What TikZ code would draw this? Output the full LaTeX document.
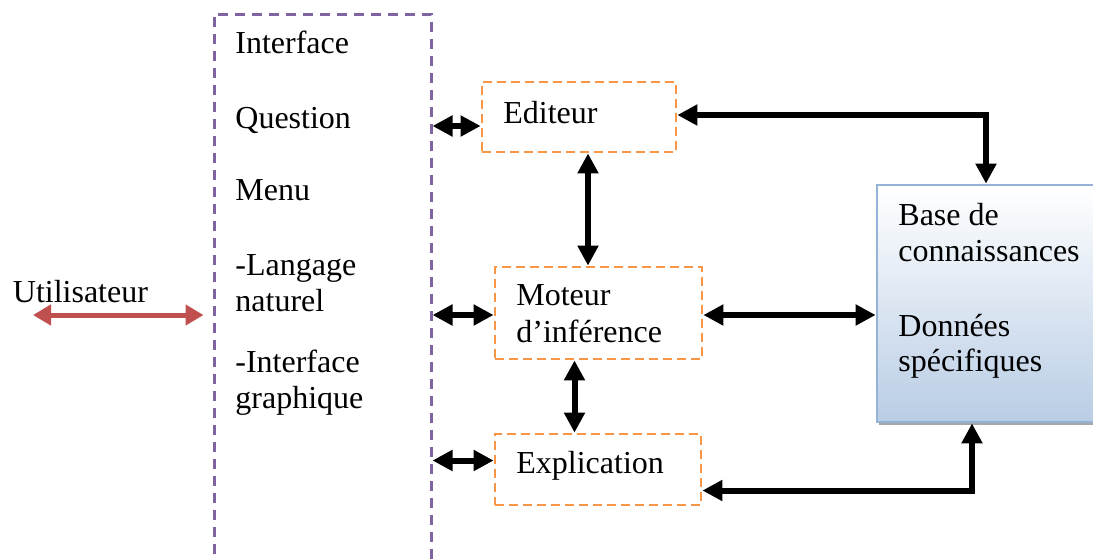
\documentclass[tikz,border=0pt]{standalone}
\usepackage{fontspec}
\setmainfont{Liberation Serif}
\usetikzlibrary{arrows.meta,calc}

\definecolor{ifacepurple}{HTML}{8064A2}
\definecolor{modorange}{HTML}{F79646}
\definecolor{userred}{HTML}{C0504D}
\definecolor{kbblue}{HTML}{B9CDE5}
\definecolor{kbline}{HTML}{95B3D7}

\tikzset{
  ifacebox/.style={draw=ifacepurple, line width=1.5pt, dash pattern=on 5pt off 3.5pt, inner sep=0pt},
  modbox/.style={draw=modorange, line width=1.4pt, dash pattern=on 4.5pt off 2.5pt, inner sep=0pt},
  kbbox/.style={draw=kbline, line width=1.4pt, top color=white, bottom color=kbblue, inner sep=0pt},
  txt/.style={anchor=base west, inner sep=0pt, font=\fontsize{16}{18}\selectfont},
  dbl/.style={line width=3pt, {Triangle[length=10pt,width=10pt]}-{Triangle[length=10pt,width=10pt]}},
  red dbl/.style={userred, line width=2.5pt, {Triangle[length=9pt,width=10pt]}-{Triangle[length=9pt,width=10pt]}}
}

\begin{document}
\begin{tikzpicture}[x=0.5pt,y=-0.5pt]
   \useasboundingbox (0,0) rectangle (1093,559);
   % boxes
   \node[ifacebox, minimum width=108.5pt, minimum height=300pt] (iface) at (322.5,314) {};
   \node[modbox, minimum width=97pt, minimum height=35pt] (edit) at (579,117) {};
   \node[modbox, minimum width=103.5pt, minimum height=46pt] (mot) at (598.5,313) {};
   \node[modbox, minimum width=103pt, minimum height=35.5pt] (expl) at (598,469.5) {};
   \fill[gray!70] (879,422) rectangle (1095,425);
   \node[kbbox, minimum width=109pt, minimum height=118.5pt] (base) at (986,303.5) {};
   % texts
   \node[txt] (t_user) at (12.5,302) {Utilisateur};
   \node[txt] (t_if) at (235,53) {Interface};
   \node[txt] (t_q) at (235,128) {Question};
   \node[txt] (t_menu) at (235,200) {Menu};
   \node[txt] (t_lang) at (235,275) {-Langage};
   \node[txt] (t_nat) at (235,311.5) {naturel};
   \node[txt] (t_ig) at (235,372) {-Interface};
   \node[txt] (t_graph) at (235,408) {graphique};
   \node[txt] (t_edit) at (503,123) {Editeur};
   \node[txt] (t_mot) at (516,305) {Moteur};
   \node[txt] (t_inf) at (516,342.5) {d’inférence};
   \node[txt] (t_expl) at (516,473) {Explication};
   \node[txt] (t_base) at (898,225.5) {Base de};
   \node[txt] (t_conn) at (898,261) {connaissances};
   \node[txt] (t_don) at (898,336) {Données};
   \node[txt] (t_spec) at (898,371.5) {spécifiques};
   % arrows
   \coordinate (u_end) at (33,315);
   \coordinate (m_row) at (0,315);
   \draw[red dbl] (u_end) -- ($(iface.west |- u_end)+(-9,0)$);
   \draw[dbl] ($(iface.east |- edit.west)+(0,9)$) -- ($(edit.west)+(0,9)$);
   \draw[dbl] ($(iface.east |- mot.west)+(0,2)$) -- ($(mot.west)+(0,2)$);
   \draw[dbl] ($(iface.east |- expl.west)+(0,-9)$) -- ($(expl.west)+(0,-9)$);
   \draw[dbl] ($(edit.south)+(9,0)$) -- ($(edit.south |- mot.north)+(9,0)$);
   \draw[dbl] ($(mot.south)+(-24,0)$) -- ($(mot.south |- expl.north)+(-24,0)$);
   \draw[dbl] (mot.east |- m_row) -- (base.west |- m_row);
   \draw[dbl] ($(edit.east)+(0,-2)$) -| (base.north);
   \draw[dbl] ($(expl.east)+(0,21)$) -| ($(base.south)+(-14,0)$);
\end{tikzpicture}
\end{document}
